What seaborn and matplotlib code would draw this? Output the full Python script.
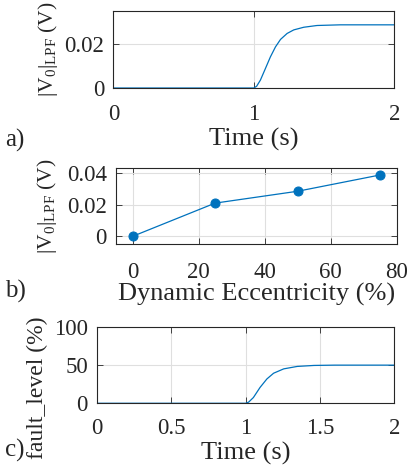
import matplotlib
matplotlib.use("Agg")
import matplotlib.pyplot as plt
import seaborn as sns
import pandas as pd

# ---- data ----
time_a = [0.0, 1.0, 1.02, 1.047, 1.083, 1.118, 1.154, 1.19, 1.237, 1.284, 1.355, 1.45, 1.616, 2.0]
v0_a = [0.0, 0.0, 0.0008, 0.0036, 0.0089, 0.0141, 0.0186, 0.0220, 0.0247, 0.0263, 0.0275, 0.0283, 0.0286, 0.0286]

ecc_pct = [0, 25, 50, 75]
v0_b = [0.0, 0.0210, 0.0285, 0.0388]

time_c = [0.0, 1.0, 1.02, 1.052, 1.097, 1.143, 1.188, 1.256, 1.347, 1.46, 1.6, 2.0]
fault_c = [0.0, 0.0, 1.5, 7.5, 20.8, 31.9, 39.4, 45.1, 48.3, 49.6, 50.0, 50.0]

xticks_a = [0, 1, 2]
yticks_a = [0, 0.02]
xticks_b = [0, 20, 40, 60, 80]
yticks_b = [0, 0.02, 0.04]
xticks_c = [0, 0.5, 1, 1.5, 2]
yticks_c = [0, 50, 100]

sns.set_style("ticks")
plt.rcParams['font.family'] = ['Liberation Serif', 'DejaVu Serif']
plt.rcParams['mathtext.fontset'] = 'custom'
plt.rcParams['mathtext.rm'] = 'Liberation Serif'
plt.rcParams['mathtext.it'] = 'Liberation Serif:italic'

LINE = '#0072BD'
AXC = '#262626'
TICK_FS = 16.5
LAB_FS = 19

fig = plt.figure(figsize=(4.07, 4.75), dpi=100)
ax_a = fig.add_axes([0.2785, 0.8147, 0.6903, 0.1628])
ax_b = fig.add_axes([0.2850, 0.4857, 0.6897, 0.1600])
ax_c = fig.add_axes([0.2383, 0.1510, 0.7305, 0.1606])

def style(ax, xpad):
    for s in ax.spines.values():
        s.set_color(AXC)
        s.set_linewidth(0.8)
    ax.tick_params(direction='in', top=True, right=True, length=4, width=0.6,
                   color=AXC, labelsize=TICK_FS, labelcolor=AXC)
    ax.tick_params(axis='x', pad=xpad)
    ax.tick_params(axis='y', pad=6.5)
    ax.grid(True, color='#dfdfdf', linewidth=0.8)
    ax.set_axisbelow(True)

ylab = r'$|\mathrm{V}_0|_{\mathrm{LPF}}$ (V)'

# a)
df_a = pd.DataFrame({'t': time_a, 'v': v0_a})
sns.lineplot(data=df_a, x='t', y='v', ax=ax_a, color=LINE, linewidth=0.9)
ax_a.set_xlim(0, 2)
ax_a.set_ylim(0, 0.035)
ax_a.set_xticks(xticks_a)
ax_a.set_xticklabels(['0', '1', '2'])
ax_a.set_yticks(yticks_a)
ax_a.set_yticklabels(['0', '0.02'])
style(ax_a, 11.5)
ax_a.set_xlabel('Time (s)', fontsize=LAB_FS, color=AXC, labelpad=2)
ax_a.set_ylabel(ylab, fontsize=15.5, color=AXC, labelpad=3)

# b)
df_b = pd.DataFrame({'e': ecc_pct, 'v': v0_b})
sns.lineplot(data=df_b, x='e', y='v', ax=ax_b, color=LINE, linewidth=0.9,
             marker='o', markersize=6.5, markeredgecolor=LINE, markerfacecolor=LINE)
ax_b.set_xlim(-5, 80)
ax_b.set_ylim(-0.005, 0.043)
ax_b.set_xticks(xticks_b)
ax_b.set_xticklabels([str(v) for v in xticks_b])
ax_b.set_yticks(yticks_b)
ax_b.set_yticklabels(['0', '0.02', '0.04'])
style(ax_b, 12.5)
ax_b.set_xlabel('Dynamic Eccentricity (%)', fontsize=LAB_FS, color=AXC, labelpad=0)
ax_b.set_ylabel(ylab, fontsize=15.5, color=AXC, labelpad=6)

# c)
df_c = pd.DataFrame({'t': time_c, 'f': fault_c})
sns.lineplot(data=df_c, x='t', y='f', ax=ax_c, color=LINE, linewidth=0.9)
ax_c.set_xlim(0, 2)
ax_c.set_ylim(0, 100)
ax_c.set_xticks(xticks_c)
ax_c.set_xticklabels(['0', '0.5', '1', '1.5', '2'])
ax_c.set_yticks(yticks_c)
ax_c.set_yticklabels(['0', '50', '100'])
style(ax_c, 10.5)
ax_c.set_xlabel('Time (s)', fontsize=LAB_FS, color=AXC, labelpad=2)
ax_c.set_ylabel('fault_level (%)', fontsize=17, color=AXC, labelpad=4, y=0.2)

fig.text(5 / 407, 1 - 140 / 475, 'a)', fontsize=18, color=AXC, va='center', ha='left')
fig.text(5 / 407, 1 - 291 / 475, 'b)', fontsize=18, color=AXC, va='center', ha='left')
fig.text(5 / 407, 1 - 450 / 475, 'c)', fontsize=18, color=AXC, va='center', ha='left')

fig.savefig('out.png', dpi=100, facecolor='white')
